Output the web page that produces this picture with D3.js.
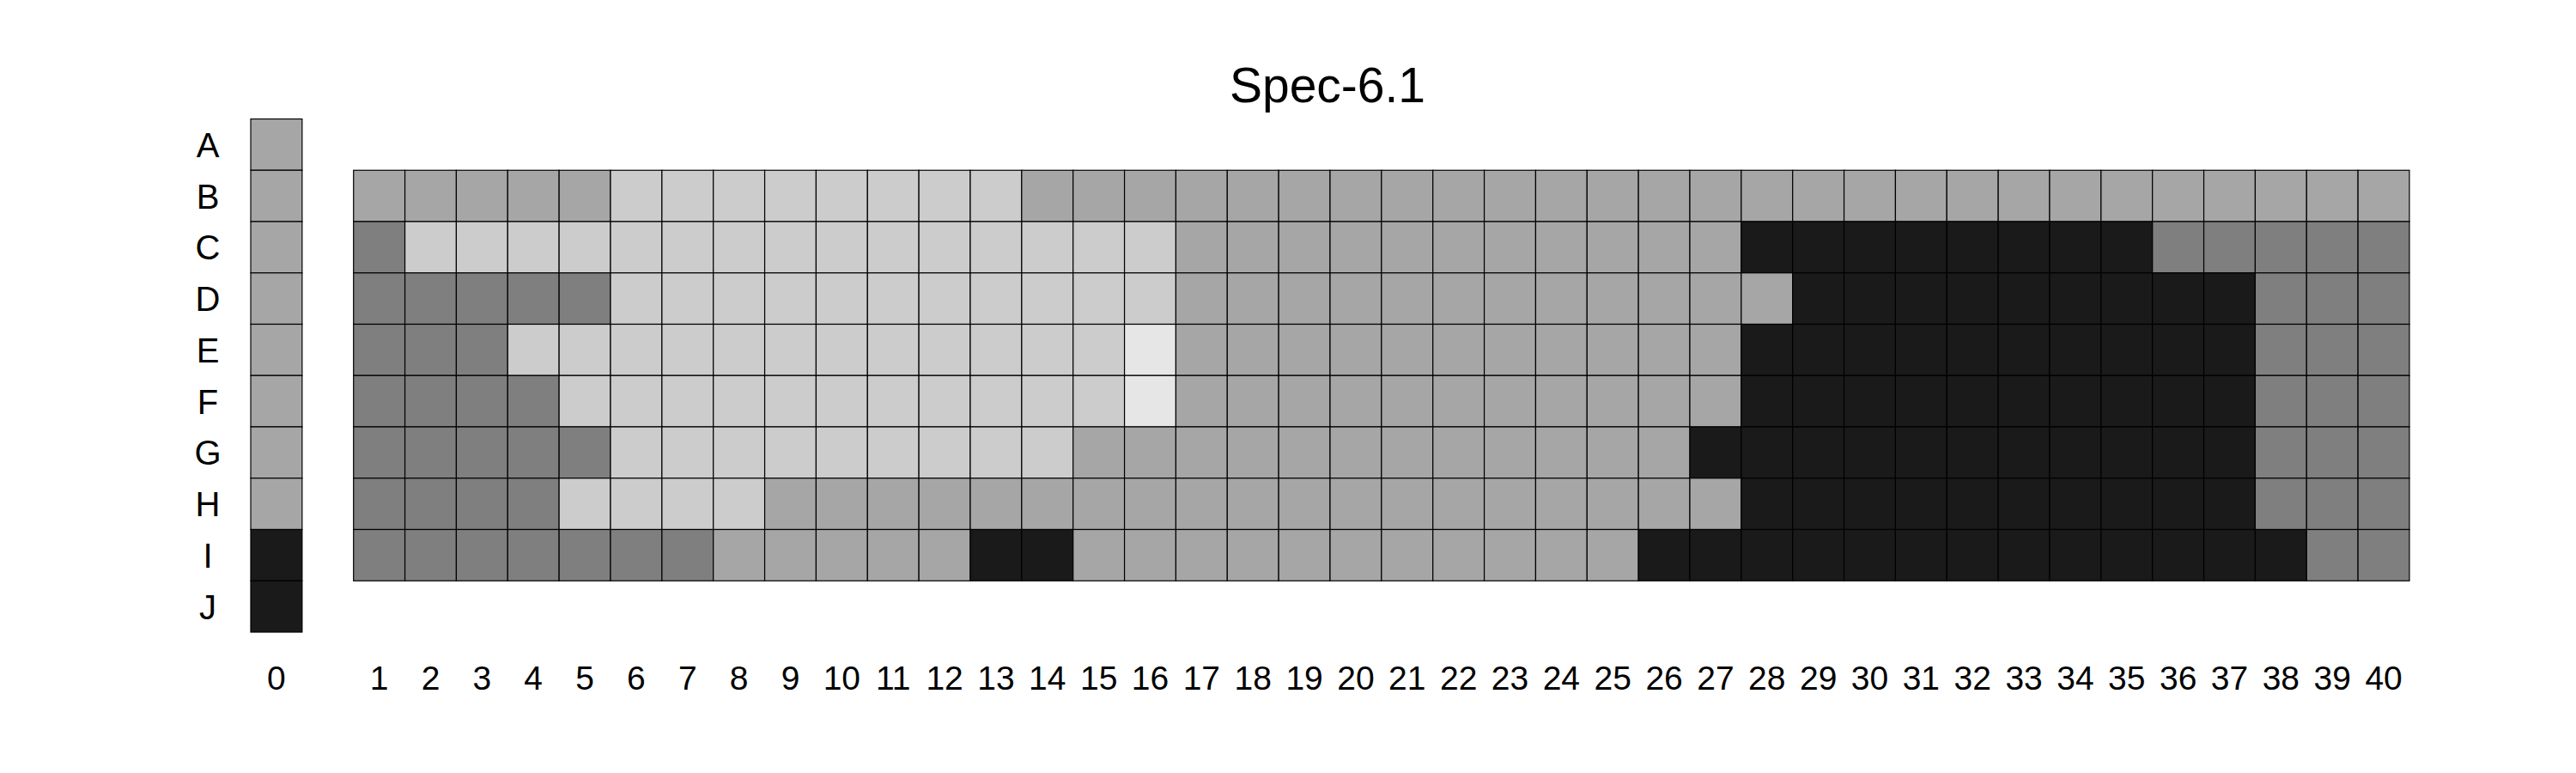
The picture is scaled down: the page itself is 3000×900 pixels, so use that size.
<!DOCTYPE html>
<html>
<head>
<meta charset="utf-8">
<script src="https://cdn.jsdelivr.net/npm/d3@7"></script>
<style>
  html, body { margin: 0; padding: 0; background: #fff; }
  svg { display: block; }
  text { font-family: "Liberation Sans", Arial, Helvetica, sans-serif; fill: #000; }
</style>
</head>
<body>
<svg id="chart" width="3000" height="900"></svg>
<script>
// ---- data ----
const title = "Spec-6.1";
const rowLabels = ["A","B","C","D","E","F","G","H","I","J"];
const colLabels = ["0","1","2","3","4","5","6","7","8","9","10","11","12","13","14","15","16","17","18","19","20",
                   "21","22","23","24","25","26","27","28","29","30","31","32","33","34","35","36","37","38","39","40"];
// grey level codes: 1 = gray90, 2 = gray80, 3 = gray65, 4 = gray50, 5 = gray10
const levelCodes = [1, 2, 3, 4, 5];
const levelColors = ["#e6e6e6", "#cccccc", "#a6a6a6", "#7f7f7f", "#1a1a1a"];

// column 0, rows A..J
const col0 = [3,3,3,3,3,3,3,3,5,5];

// columns 1..40 for rows B..I
const rowB = [3,3,3,3,3,2,2,2,2,2,2,2,2,3,3,3,3,3,3,3,3,3,3,3,3,3,3,3,3,3,3,3,3,3,3,3,3,3,3,3];
const rowC = [4,2,2,2,2,2,2,2,2,2,2,2,2,2,2,2,3,3,3,3,3,3,3,3,3,3,3,5,5,5,5,5,5,5,5,4,4,4,4,4];
const rowD = [4,4,4,4,4,2,2,2,2,2,2,2,2,2,2,2,3,3,3,3,3,3,3,3,3,3,3,3,5,5,5,5,5,5,5,5,5,4,4,4];
const rowE = [4,4,4,2,2,2,2,2,2,2,2,2,2,2,2,1,3,3,3,3,3,3,3,3,3,3,3,5,5,5,5,5,5,5,5,5,5,4,4,4];
const rowF = [4,4,4,4,2,2,2,2,2,2,2,2,2,2,2,1,3,3,3,3,3,3,3,3,3,3,3,5,5,5,5,5,5,5,5,5,5,4,4,4];
const rowG = [4,4,4,4,4,2,2,2,2,2,2,2,2,2,3,3,3,3,3,3,3,3,3,3,3,3,5,5,5,5,5,5,5,5,5,5,5,4,4,4];
const rowH = [4,4,4,4,2,2,2,2,3,3,3,3,3,3,3,3,3,3,3,3,3,3,3,3,3,3,3,5,5,5,5,5,5,5,5,5,5,4,4,4];
const rowI = [4,4,4,4,4,4,4,3,3,3,3,3,5,5,3,3,3,3,3,3,3,3,3,3,3,5,5,5,5,5,5,5,5,5,5,5,5,5,4,4];

const mainRows = ["B","C","D","E","F","G","H","I"];
const mainValues = [rowB, rowC, rowD, rowE, rowF, rowG, rowH, rowI];

// ---- build cells ----
const cells = [];
rowLabels.forEach((r, i) => cells.push({row: r, col: "0", v: col0[i]}));
mainRows.forEach((r, i) => {
  mainValues[i].forEach((v, j) => cells.push({row: r, col: colLabels[j + 1], v: v}));
});

// ---- scales ----
const svg = d3.select("#chart");
const xDomain = ["0", "_gap"].concat(colLabels.slice(1));
const x = d3.scaleBand().domain(xDomain).range([292, 2806]).padding(0);
const y = d3.scaleBand().domain(rowLabels).range([138.5, 736]).padding(0);
const color = d3.scaleOrdinal().domain(levelCodes).range(levelColors);

// ---- cells ----
svg.append("g")
  .selectAll("rect")
  .data(cells)
  .join("rect")
  .attr("x", d => x(d.col))
  .attr("y", d => y(d.row))
  .attr("width", x.bandwidth())
  .attr("height", y.bandwidth())
  .attr("fill", d => color(d.v))
  .attr("stroke", "#000")
  .attr("stroke-width", 1.2);

// ---- x axis ----
const xAxis = svg.append("g")
  .attr("transform", "translate(0,803)")
  .call(d3.axisBottom(x).tickValues(colLabels).tickSize(0));
xAxis.select(".domain").remove();
xAxis.selectAll("text")
  .attr("y", 0).attr("dy", 0)
  .style("font-size", "39px")
  .style("font-family", "'Liberation Sans', Arial, sans-serif")
  .attr("fill", "#000");

// ---- y axis (row labels) ----
const yAxis = svg.append("g")
  .attr("transform", "translate(242,0)")
  .call(d3.axisLeft(y).tickSize(0));
yAxis.select(".domain").remove();
yAxis.selectAll("text")
  .attr("x", 0).attr("dy", "0.36em")
  .attr("text-anchor", "middle")
  .style("font-size", "40px")
  .style("font-family", "'Liberation Sans', Arial, sans-serif")
  .attr("fill", "#000");

// ---- title ----
svg.append("text")
  .attr("x", 1546)
  .attr("y", 119)
  .attr("text-anchor", "middle")
  .style("font-size", "57px")
  .text(title);
</script>
</body>
</html>
